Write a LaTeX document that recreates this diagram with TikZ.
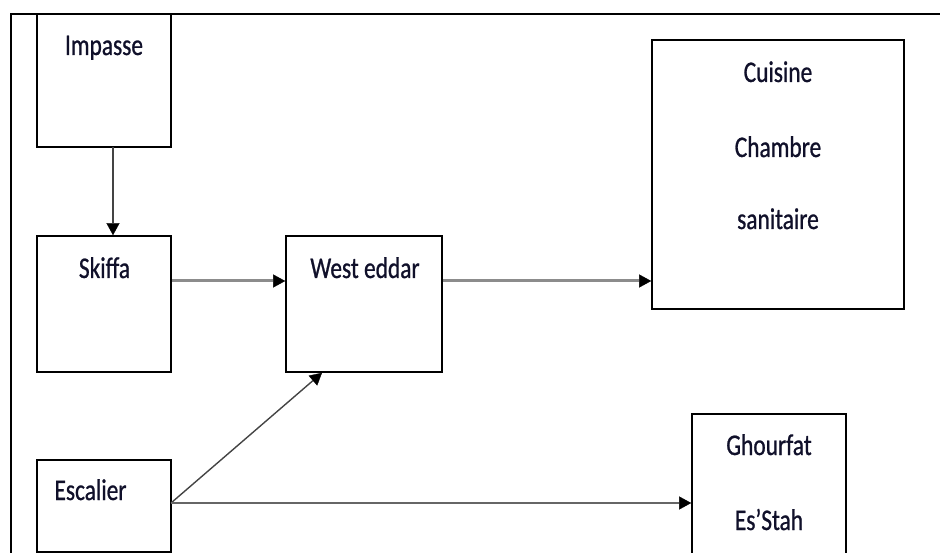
\documentclass[tikz,border=0pt]{standalone}
\usepackage{fontspec}
\setmainfont[FakeStretch=0.78,FakeBold=0.8]{Carlito}
\usetikzlibrary{arrows.meta}
\definecolor{txt}{HTML}{10102A}
\definecolor{lgray}{HTML}{8C8C8C}
\definecolor{dgray}{HTML}{444444}
\definecolor{mgray}{HTML}{666666}
\tikzset{
  box/.style={draw=black, line width=1.6pt, fill=none},
  lbl/.style={anchor=base, inner sep=0pt, text=txt, font=\fontsize{30}{32}\selectfont},
  tip/.style={-{Triangle[length=12pt,width=13pt,line width=0.3pt,color=black,fill=black]}},
  thin arrow/.style={tip, draw=dgray, line width=1.4pt},
  gray arrow/.style={tip, draw=lgray, line width=3pt},
  mid arrow/.style={tip, draw=mgray, line width=2pt},
}
\begin{document}
\begin{tikzpicture}[x=1pt,y=-1pt]
\useasboundingbox (0,0) rectangle (940,553);
\clip (0,0) rectangle (940,553);
% outer frame
\draw[line width=1.6pt] (11,600) -- (11,14) -- (945,14);
% boxes
\draw[box] (37,14) rectangle (171,147);
\node[inner sep=0pt, minimum width=134pt, minimum height=133pt] (imp) at (104,80.5) {};
\node[box, inner sep=0pt, minimum width=134pt, minimum height=136pt] (skf) at (104,304) {};
\node[box, inner sep=0pt, minimum width=156pt, minimum height=136pt] (wed) at (364,304) {};
\node[box, inner sep=0pt, minimum width=252pt, minimum height=269pt] (cui) at (778,174.5) {};
\node[box, inner sep=0pt, minimum width=134pt, minimum height=92pt] (esc) at (104,506) {};
\node[box, inner sep=0pt, minimum width=154pt, minimum height=180pt] (gho) at (769,504) {};
% labels
\node[lbl] (t1) at (104,55) {Impasse};
\node[lbl] (t2) at (104.5,278) {Skiffa};
\node[lbl] (t3) at (365,278) {West eddar};
\node[lbl] (t4) at (778,82) {Cuisine};
\node[lbl] (t5) at (778,157) {Chambre};
\node[lbl] (t6) at (778,229) {sanitaire};
\node[lbl] (t7) at (769,455) {Ghourfat};
\node[lbl] (t8) at (769,530) {Es’Stah};
\node[lbl] (t9) at (90.5,500) {Escalier};
% connectors
\coordinate (escR) at (171,503);
\draw[thin arrow] (113,147) -- (skf.north -| 113,0);
\draw[gray arrow] (skf.east |- 0,281) -- (wed.west |- 0,281);
\draw[gray arrow] (wed.east |- 0,281) -- (cui.west |- 0,281);
\draw[thin arrow] (escR) -- (wed.south -| 322,0);
\draw[mid arrow] (escR) -- (gho.west |- escR);
\end{tikzpicture}
\end{document}
